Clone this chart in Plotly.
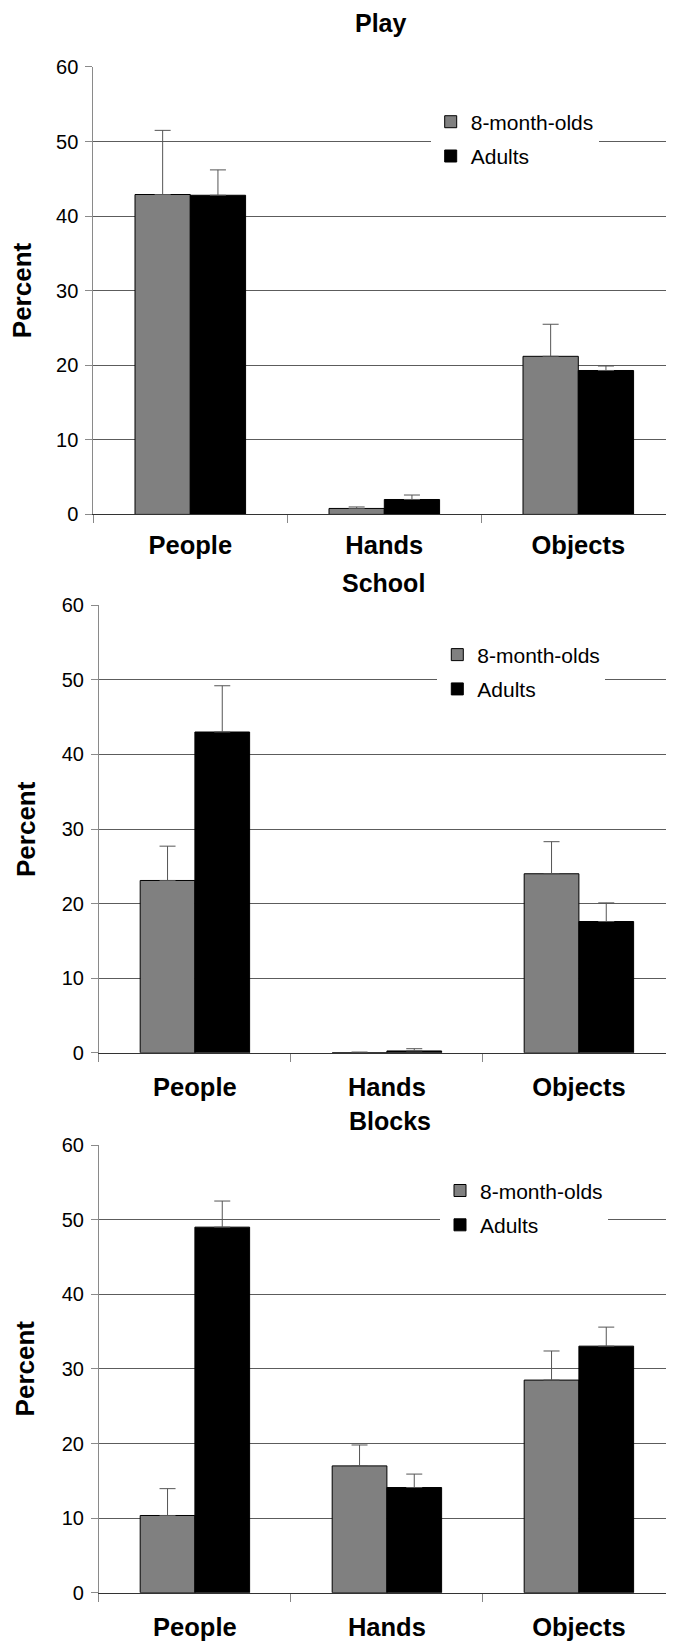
import plotly.graph_objects as go

categories = ["People", "Hands", "Objects"]
panel_titles = ["Play", "School", "Blocks"]
series_names = ["8-month-olds", "Adults"]

infant_play = [42.9, 0.8, 21.2]
infant_play_err = [8.6, 0.2, 4.3]
adult_play = [42.8, 2.0, 19.3]
adult_play_err = [3.4, 0.6, 0.6]

infant_school = [23.1, 0.0, 24.0]
infant_school_err = [4.6, 0.1, 4.3]
adult_school = [43.0, 0.25, 17.6]
adult_school_err = [6.2, 0.3, 2.5]

infant_blocks = [10.35, 17.0, 28.5]
infant_blocks_err = [3.6, 2.8, 3.9]
adult_blocks = [49.0, 14.1, 33.05]
adult_blocks_err = [3.5, 1.8, 2.55]

y_ticks = [0, 10, 20, 30, 40, 50, 60]

OFF = 8
W, H, L = 674 - 2 * OFF, 1644, 80
PW = W - L
FONT = "Liberation Sans, Arial, sans-serif"
V_OFF, V_SCALE = 18.7, 0.9868


def px_x(p):
    return (p - OFF - L) / PW


def px_y(p):
    return 1 - ((p - V_OFF) / V_SCALE) / H


# target pixel layout per panel:
# axis x, top, bottom, category width, title x, title y, ylabel x, legend left, legend first item y, label standoff
panels_px = [
    (93.3, 66.7, 514.2, 194, 381, 22.5, 21.5, 430.7, 122, 8),
    (98.9, 605, 1052.7, 192, 383.6, 583, 26, 437.3, 655, 12),
    (98.9, 1145, 1592.7, 192, 390, 1121, 24.5, 440, 1191, 12),
]

data = [
    (infant_play, infant_play_err, adult_play, adult_play_err),
    (infant_school, infant_school_err, adult_school, adult_school_err),
    (infant_blocks, infant_blocks_err, adult_blocks, adult_blocks_err),
]

colors = ["#808080", "#000000"]

fig = go.Figure()
annotations = []
layout = {}
right_edge = OFF + W
for i, (ax_x, top, bot, catw, tx, ty, ylx, lgx, lgy, lso) in enumerate(panels_px):
    sfx = "" if i == 0 else str(i + 1)
    inf, inf_e, adu, adu_e = data[i]
    for j, (vals, errs) in enumerate([(inf, inf_e), (adu, adu_e)]):
        fig.add_trace(go.Bar(
            x=categories, y=vals, name=series_names[j],
            xaxis="x" + sfx, yaxis="y" + sfx,
            legend="legend" + sfx, legendgroup=f"g{i}{j}",
            marker=dict(color=colors[j], line=dict(color="#000000", width=1)),
            error_y=dict(type="data", array=errs, arrayminus=[0] * len(errs),
                         symmetric=False, color="#555555", thickness=1, width=8),
        ))
    layout["xaxis" + sfx] = dict(
        domain=[px_x(ax_x), 1], anchor="y" + sfx, type="category",
        range=[-0.5, -0.5 + (right_edge - ax_x) / catw],
        showline=True, linecolor="#333333", linewidth=1,
        ticks="outside", tickson="boundaries", ticklen=8, tickcolor="#888888",
        tickfont=dict(family=FONT, size=25.5, color="#000", weight="bold"),
        ticklabelstandoff=lso, showgrid=False, zeroline=False,
    )
    layout["yaxis" + sfx] = dict(
        domain=[px_y(bot), px_y(top)], anchor="x" + sfx, range=[0, 60],
        tickvals=y_ticks, showgrid=True, gridcolor="#5c5c5c", gridwidth=1,
        showline=True, linecolor="#8a8a8a", ticks="outside", ticklen=7,
        tickcolor="#8a8a8a", tickfont=dict(family=FONT, size=20, color="#000"),
        ticklabelstandoff=3, zeroline=False,
    )
    layout["legend" + sfx] = dict(
        x=px_x(lgx), y=px_y(lgy) + 21 / H, xanchor="left", yanchor="top",
        bgcolor="white", borderwidth=0, tracegroupgap=4, traceorder="grouped",
        font=dict(family=FONT, size=21, color="#000"),
    )
    annotations.append(dict(
        text="<b>" + panel_titles[i] + "</b>", xref="paper", yref="paper",
        x=px_x(tx), y=px_y(ty), xanchor="center", yanchor="middle",
        showarrow=False, font=dict(family=FONT, size=25, color="#000"),
    ))
    annotations.append(dict(
        text="<b>Percent</b>", xref="paper", yref="paper", textangle=-90,
        x=px_x(ylx), y=px_y((top + bot) / 2), xanchor="center", yanchor="middle",
        showarrow=False, font=dict(family=FONT, size=26, color="#000"),
    ))

fig.update_layout(
    width=W, height=H, margin=dict(l=L, r=0, t=0, b=0),
    paper_bgcolor="white", plot_bgcolor="white",
    barmode="group", bargap=0.43, bargroupgap=0,
    annotations=annotations, font=dict(family=FONT), **layout,
)

fig.write_html("out.html")
